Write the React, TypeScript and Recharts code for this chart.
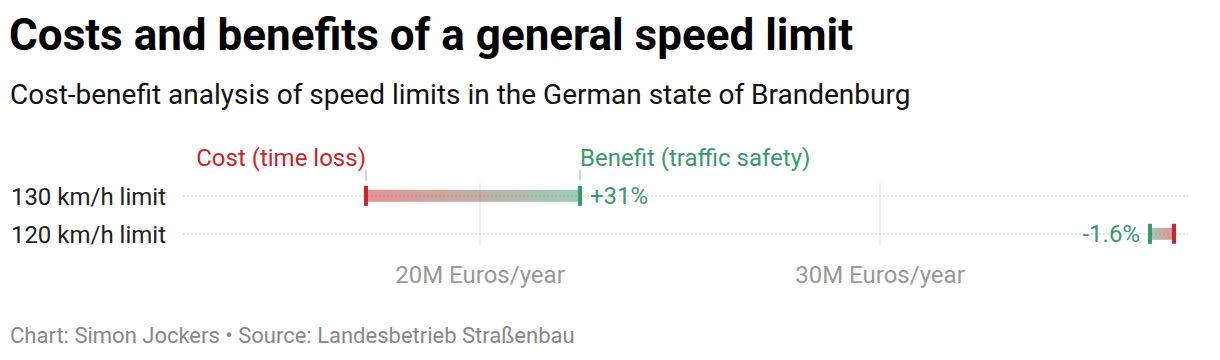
import React from "react";
import { Bar, CartesianGrid, ComposedChart, XAxis, YAxis } from "recharts";

const categories = ["130 km/h limit", "120 km/h limit"];
const costValues = [17.15, 37.35];
const benefitValues = [22.5, 36.75];
const changeLabels = ["+31%", "-1.6%"];
const xTicks = [20, 30];
const costLabel = "Cost (time loss)";
const benefitLabel = "Benefit (traffic safety)";

const RED = "#c9252b";
const GREEN = "#3b9a6c";
const FONT = "Roboto, 'Noto Sans', sans-serif";

const data = categories.map((name, i) => ({
  name,
  cost: costValues[i],
  benefit: benefitValues[i],
  change: changeLabels[i],
  annotate: i === 0,
}));

function RangeShape(props: any) {
  const { x, y, width, height, payload, index } = props;
  const left = Math.min(x, x + width);
  const right = Math.max(x, x + width);
  const cy = y + height / 2;
  const costLeft = payload.cost < payload.benefit;
  const costX = costLeft ? left : right;
  const benefitX = costLeft ? right : left;
  const id = `grad-${index}`;
  const dir = costLeft ? 1 : -1;

  return (
    <g>
      <defs>
        <linearGradient id={id} x1={costLeft ? "0" : "1"} x2={costLeft ? "1" : "0"} y1="0" y2="0">
          <stop offset="0%" stopColor={RED} stopOpacity={0.5} />
          <stop offset="100%" stopColor={GREEN} stopOpacity={0.5} />
        </linearGradient>
      </defs>
      <rect x={left} y={cy - 6} width={right - left} height={12} fill={`url(#${id})`} />
      <rect x={costX - 2} y={cy - 10} width={4} height={20} fill={RED} />
      <rect x={benefitX - 2} y={cy - 10} width={4} height={20} fill={GREEN} />
      <text
        x={benefitX + dir * 10}
        y={cy}
        dy="0.35em"
        textAnchor={dir > 0 ? "start" : "end"}
        fill={GREEN}
        fontSize={24}
        fontFamily={FONT}
      >
        {payload.change}
      </text>
      {payload.annotate && (
        <g>
          <line x1={costX} x2={costX} y1={cy - 26} y2={cy - 15} stroke="#aaa" />
          <line x1={benefitX} x2={benefitX} y1={cy - 26} y2={cy - 15} stroke="#aaa" />
          <text x={costX} y={cy - 29.5} textAnchor="end" fill={RED} fontSize={24} fontFamily={FONT}>
            {costLabel}
          </text>
          <text x={benefitX} y={cy - 29.5} textAnchor="start" fill={GREEN} fontSize={24} fontFamily={FONT}>
            {benefitLabel}
          </text>
        </g>
      )}
    </g>
  );
}

// skip the lines CartesianGrid adds on the plot edges
const VerticalLine = (p: any) => {
  if (Math.abs(p.x1 - p.x) < 1 || Math.abs(p.x1 - (p.x + p.width)) < 1) return null;
  return <line x1={p.x1} x2={p.x2} y1={p.y1 + 6} y2={p.y2 - 8} stroke="#e2e2e2" strokeWidth={1} />;
};

const HorizontalLine = (p: any) => {
  if (Math.abs(p.y1 - p.y) < 1 || Math.abs(p.y1 - (p.y + p.height)) < 1) return null;
  return <line x1={p.x1} x2={p.x2} y1={p.y1} y2={p.y2} stroke="#cfcfcf" strokeWidth={1.2} strokeDasharray="2 2" />;
};

export default function App() {
  return (
    <div style={{ position: "absolute", top: 0, left: 0, width: 1220, height: 360, fontFamily: FONT, background: "#fff" }}>
      <div style={{ position: "absolute", left: 9, top: 8.5, fontSize: 44, lineHeight: "normal", fontWeight: 700, color: "#000", whiteSpace: "nowrap" }}>
        Costs and benefits of a general speed limit
      </div>
      <div style={{ position: "absolute", left: 10, top: 78, fontSize: 28, lineHeight: "normal", color: "#111", whiteSpace: "nowrap" }}>
        Cost-benefit analysis of speed limits in the German state of Brandenburg
      </div>
      <div style={{ position: "absolute", top: 0, left: 0 }}>
        <ComposedChart
          width={1220}
          height={300}
          layout="vertical"
          data={data}
          margin={{ top: 177, right: 32, bottom: 17, left: 0 }}
        >
          <CartesianGrid horizontal={false} vertical={VerticalLine} />
          <CartesianGrid vertical={false} horizontal={HorizontalLine} />
          <XAxis
            type="number"
            domain={[12.575, 37.7]}
            ticks={xTicks}
            tickFormatter={(v) => `${v}M Euros/year`}
            axisLine={false}
            tickLine={false}
            tickMargin={7}
            tick={{ fontSize: 24, fill: "#999", fontFamily: FONT }}
            allowDataOverflow
          />
          <YAxis
            type="category"
            dataKey="name"
            width={183}
            axisLine={false}
            tickLine={false}
            tickSize={0}
            tickMargin={17}
            tick={{ fontSize: 24, fill: "#222", fontFamily: FONT }}
          />
          <Bar
            dataKey={(d: any) => [d.cost, d.benefit]}
            shape={<RangeShape />}
            isAnimationActive={false}
          />
        </ComposedChart>
      </div>
      <div style={{ position: "absolute", left: 10, top: 323, fontSize: 22, lineHeight: "normal", color: "#888", whiteSpace: "nowrap" }}>
        Chart: Simon Jockers • Source: Landesbetrieb Straßenbau
      </div>
    </div>
  );
}
